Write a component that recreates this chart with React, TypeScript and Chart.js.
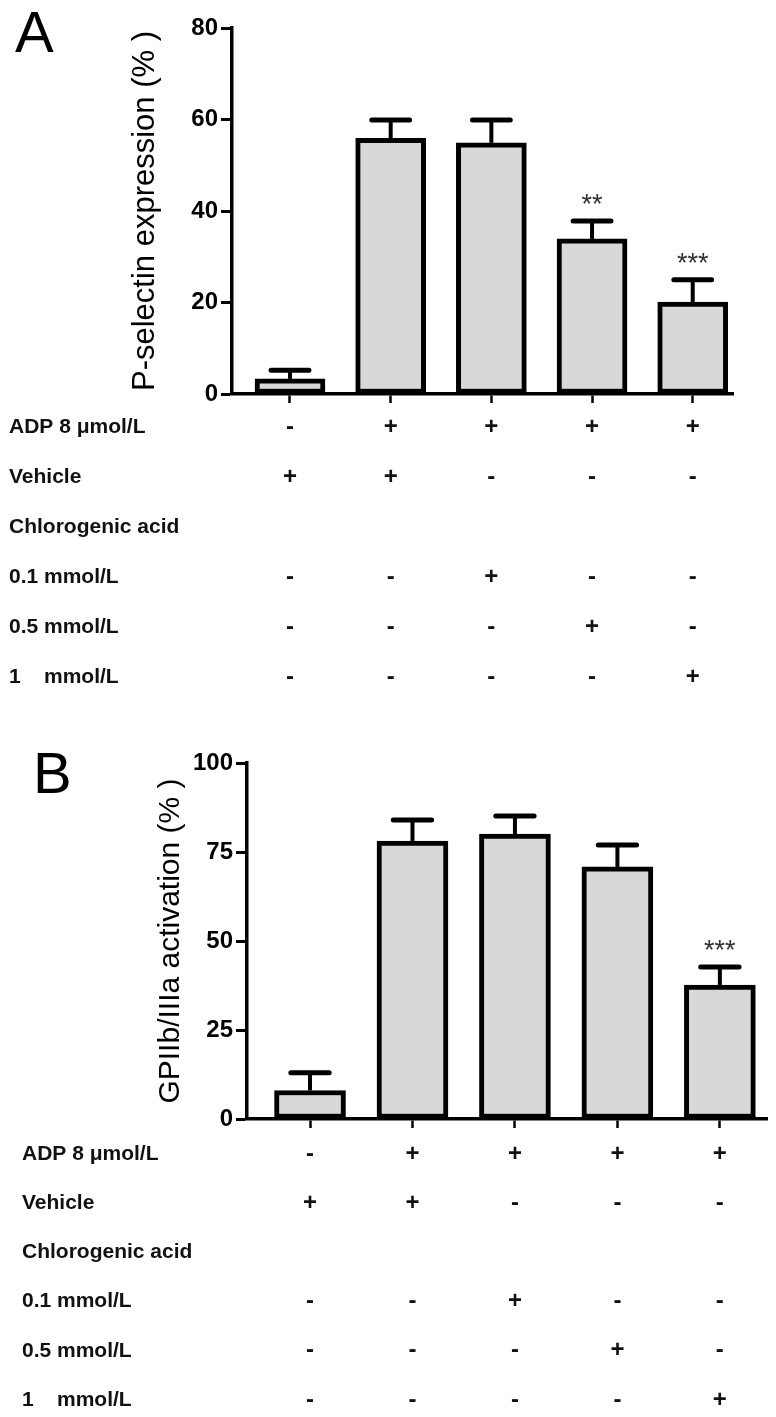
import React, { useEffect, useRef } from 'react';
import { Chart, registerables } from 'chart.js';

Chart.register(...registerables);

const FONT = "'Liberation Sans', Arial, Helvetica, sans-serif";

// ---- data ----
const conditionIndex = [0, 1, 2, 3, 4];

const pselMeans = [3.3, 55.9, 54.9, 33.9, 20.1];
const pselErrors = [1.9, 4.0, 5.0, 3.9, 4.9];
const pselStars = ['', '', '', '**', '***'];
const pselTitle = 'P-selectin expression (% )';

const gpMeans = [8.0, 78.1, 80.0, 70.8, 37.6];
const gpErrors = [5.0, 5.9, 5.1, 6.2, 5.1];
const gpStars = ['', '', '', '', '***'];
const gpTitle = 'GPIIb/IIIa activation (% )';

const rowLabels = ['ADP 8 μmol/L', 'Vehicle', 'Chlorogenic acid', '0.1 mmol/L', '0.5 mmol/L', '1    mmol/L'];
const adpRow = ['-', '+', '+', '+', '+'];
const vehicleRow = ['+', '+', '-', '-', '-'];
const acidRow = ['', '', '', '', ''];
const dose01Row = ['-', '-', '+', '-', '-'];
const dose05Row = ['-', '-', '-', '+', '-'];
const dose1Row = ['-', '-', '-', '-', '+'];
const tableRows = [adpRow, vehicleRow, acidRow, dose01Row, dose05Row, dose1Row];

// ---- layout (styles only) ----
const panelA = {
  letter: 'A', letterX: 15, letterY: 52,
  top: 0, height: 710, plotTop: 28, plotBottom: 394, axisX: 232, plotRight: 733,
  xMin: -0.576, xMax: 4.4, yMax: 80, yStep: 20, titleCenter: 145, titleSize: 31,
  barW: 70, tableFirst: 33, rowGap: 50, labelX: 9,
  means: pselMeans, errors: pselErrors, stars: pselStars, title: pselTitle,
};
const panelB = {
  letter: 'B', letterX: 33, letterY: 83,
  top: 710, height: 707, plotTop: 53, plotBottom: 409, axisX: 247, plotRight: 767,
  xMin: -0.615, xMax: 4.46, yMax: 100, yStep: 25, titleCenter: 171, titleSize: 30,
  barW: 71, tableFirst: 35, rowGap: 49.2, labelX: 22,
  means: gpMeans, errors: gpErrors, stars: gpStars, title: gpTitle,
};

function Panel({ cfg }: { cfg: any }) {
  const ref = useRef<HTMLCanvasElement>(null);
  useEffect(() => {
    const canvas = ref.current;
    if (!canvas) return;
    const W = 776;
    const H = cfg.height;
    const titleLH = cfg.titleSize * 1.2;

    const decor = {
      id: 'decor',
      afterDatasetsDraw(chart: any) {
        const ctx = chart.ctx;
        const meta = chart.getDatasetMeta(0);
        const y = chart.scales.y;
        meta.data.forEach((bar: any, i: number) => {
          const cx = bar.x;
          const w = bar.width;
          const top = y.getPixelForValue(cfg.means[i]);
          const et = y.getPixelForValue(cfg.means[i] + cfg.errors[i]);
          ctx.save();
          ctx.strokeStyle = '#000';
          ctx.lineWidth = 4;
          ctx.beginPath();
          ctx.moveTo(cx, top);
          ctx.lineTo(cx, et);
          ctx.stroke();
          ctx.lineWidth = 5;
          ctx.lineCap = 'round';
          ctx.beginPath();
          ctx.moveTo(cx - w * 0.27, et);
          ctx.lineTo(cx + w * 0.27, et);
          ctx.stroke();
          if (cfg.stars[i]) {
            ctx.fillStyle = '#333';
            ctx.font = `27px ${FONT}`;
            ctx.textAlign = 'center';
            ctx.textBaseline = 'alphabetic';
            ctx.fillText(cfg.stars[i], cx, et - 24 + 16);
          }
          ctx.restore();
        });
      },
      afterDraw(chart: any) {
        const ctx = chart.ctx;
        const x = chart.scales.x;
        const area = chart.chartArea;
        ctx.save();
        ctx.fillStyle = '#000';
        ctx.font = `58px ${FONT}`;
        ctx.textAlign = 'left';
        ctx.textBaseline = 'alphabetic';
        ctx.fillText(cfg.letter, cfg.letterX, cfg.letterY);
        tableRows.forEach((row, r) => {
          const ry = area.bottom + cfg.tableFirst + r * cfg.rowGap;
          ctx.font = `bold 21px ${FONT}`;
          ctx.textAlign = 'left';
          ctx.textBaseline = 'middle';
          ctx.fillStyle = '#111';
          ctx.fillText(rowLabels[r], cfg.labelX, ry);
          ctx.font = `bold 24px ${FONT}`;
          ctx.textAlign = 'center';
          row.forEach((s, c) => {
            if (s) ctx.fillText(s, x.getPixelForValue(conditionIndex[c]), ry);
          });
        });
        ctx.restore();
      },
    };

    const chart = new Chart(canvas, {
      type: 'bar',
      data: {
        datasets: [
          {
            data: conditionIndex.map((v, i) => ({ x: v, y: cfg.means[i] })),
            backgroundColor: '#d8d8d8',
            borderColor: '#000',
            borderWidth: 5,
            borderSkipped: false,
            barThickness: cfg.barW,
          },
        ],
      },
      options: {
        responsive: false,
        animation: false,
        devicePixelRatio: 1,
        layout: { padding: { top: cfg.plotTop, right: W - cfg.plotRight, bottom: 0, left: 0 } },
        plugins: { legend: { display: false }, tooltip: { enabled: false }, title: { display: false } },
        scales: {
          x: {
            type: 'linear',
            offset: false,
            min: cfg.xMin,
            max: cfg.xMax,
            afterFit: (s: any) => { s.height = H - cfg.plotBottom; },
            ticks: { display: false, stepSize: 1, includeBounds: false },
            grid: { offset: false, drawOnChartArea: false, drawTicks: true, tickLength: 9, tickWidth: 2.5, tickColor: '#000', color: '#000' },
            border: { display: true, color: '#000', width: 3.5 },
          },
          y: {
            min: 0,
            max: cfg.yMax,
            afterFit: (s: any) => { s.width = cfg.axisX; },
            ticks: {
              stepSize: cfg.yStep,
              color: '#000',
              padding: 3,
              font: { family: FONT, size: 24, weight: 'bold' },
            },
            grid: { drawOnChartArea: false, drawTicks: true, tickLength: 11, tickWidth: 3, tickColor: '#000', color: '#000' },
            border: { display: true, color: '#000', width: 3.5 },
            title: {
              display: true,
              text: cfg.title,
              color: '#000',
              font: { family: FONT, size: cfg.titleSize, weight: 'normal' },
              padding: { top: cfg.titleCenter - titleLH / 2, bottom: 0 },
            },
          },
        },
      },
      plugins: [decor],
    });
    return () => chart.destroy();
  }, [cfg]);
  return (
    <canvas
      ref={ref}
      width={776}
      height={cfg.height}
      style={{ position: 'absolute', left: 0, top: cfg.top, width: 776, height: cfg.height, display: 'block' }}
    />
  );
}

export default function App() {
  return (
    <div style={{ position: 'absolute', left: 0, top: 0, width: 776, height: 1417, background: '#fff', overflow: 'hidden' }}>
      <Panel cfg={panelA} />
      <Panel cfg={panelB} />
    </div>
  );
}
